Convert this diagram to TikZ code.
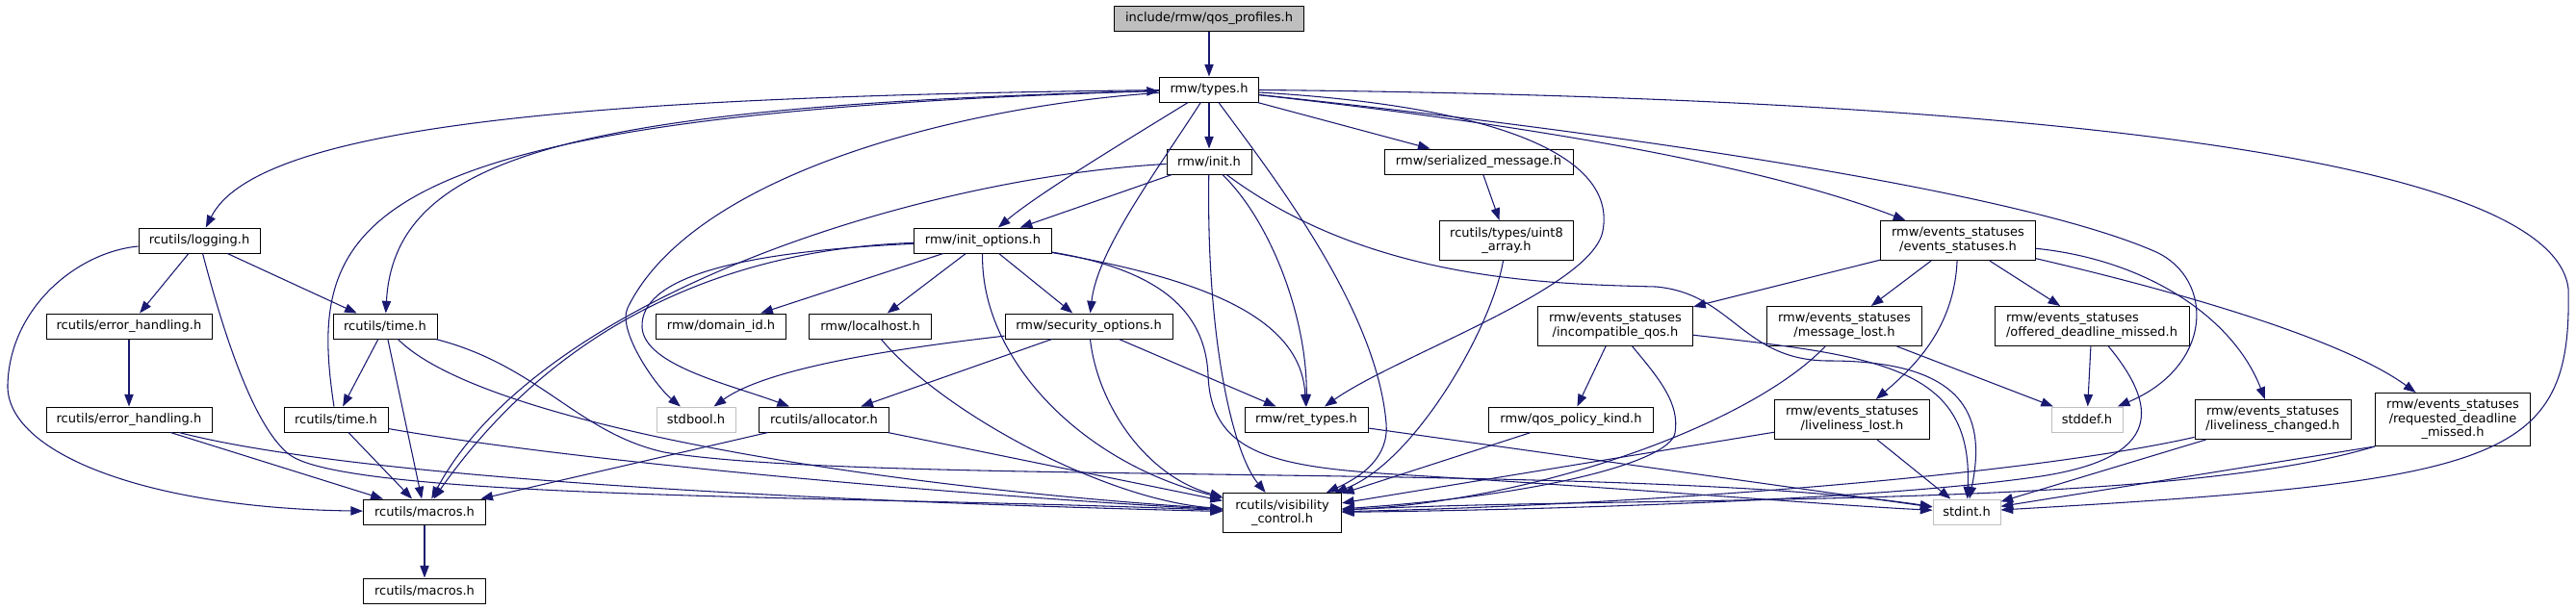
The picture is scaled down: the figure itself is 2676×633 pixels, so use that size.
\documentclass[tikz,border=0pt]{standalone}
\usepackage{fontspec}
\setmainfont{DejaVu Sans}
\usepackage{tikz}
\usetikzlibrary{arrows.meta}
\definecolor{incblue}{RGB}{25,25,112}
\definecolor{sysgray}{RGB}{191,191,191}
\tikzset{
  hdr/.style={draw=black, line width=0.75pt, fill=white, inner sep=0pt,
              minimum height=19.5pt, align=center, font=\fontsize{9.75}{11}\selectfont},
  hdrtwo/.style={hdr, minimum height=30.75pt},
  syshdr/.style={hdr, draw=sysgray},
  roothdr/.style={hdr, fill=sysgray},
  inc/.style={-{Triangle[length=9.5pt, width=7pt]}, incblue, line width=0.8pt},
}

\begin{document}
\begin{tikzpicture}[x=0.75pt, y=-0.75pt]
  \useasboundingbox (0,0) rectangle (2676,633);
  \node[roothdr, minimum width=147.75pt] (qos) at (1256,19) {include/rmw/qos\_profiles.h};
  \node[hdr, minimum width=77.25pt] (types) at (1256,93) {rmw/types.h};
  \node[hdr, minimum width=66pt] (init) at (1256,168) {rmw/init.h};
  \node[hdr, minimum width=147pt] (serial) at (1536,168) {rmw/serialized\_message.h};
  \node[hdr, minimum width=94.5pt] (logging) at (207,250) {rcutils/logging.h};
  \node[hdr, minimum width=107.25pt] (initopt) at (1021,250) {rmw/init\_options.h};
  \node[hdrtwo, minimum width=104.25pt] (uint8) at (1565,250) {rcutils/types/uint8\\\_array.h};
  \node[hdrtwo, minimum width=120.75pt] (events) at (2034,250) {rmw/events\_statuses\\/events\_statuses.h};
  \node[hdr, minimum width=129pt] (err1) at (134,339) {rcutils/error\_handling.h};
  \node[hdr, minimum width=81pt] (time1) at (400,339) {rcutils/time.h};
  \node[hdr, minimum width=101.25pt] (domain) at (749,339) {rmw/domain\_id.h};
  \node[hdr, minimum width=95.25pt] (localhost) at (904,339) {rmw/localhost.h};
  \node[hdr, minimum width=130.5pt] (security) at (1131,339) {rmw/security\_options.h};
  \node[hdrtwo, minimum width=120.75pt] (incompat) at (1678,339) {rmw/events\_statuses\\/incompatible\_qos.h};
  \node[hdrtwo, minimum width=120.75pt] (msglost) at (1916,339) {rmw/events\_statuses\\/message\_lost.h};
  \node[hdrtwo, minimum width=151.5pt, align=left] (offered) at (2173,339) {rmw/events\_statuses\\/offered\_deadline\_missed.h};
  \node[hdr, minimum width=129pt] (err2) at (134,436) {rcutils/error\_handling.h};
  \node[hdr, minimum width=81pt] (time2) at (349,436) {rcutils/time.h};
  \node[syshdr, minimum width=61.5pt] (stdbool) at (723,436) {stdbool.h};
  \node[hdr, minimum width=101.25pt] (alloc) at (856,436) {rcutils/allocator.h};
  \node[hdr, minimum width=96pt] (ret) at (1357,436) {rmw/ret\_types.h};
  \node[hdr, minimum width=128.25pt] (qospk) at (1632,436) {rmw/qos\_policy\_kind.h};
  \node[hdrtwo, minimum width=120.75pt] (livlost) at (1924,436) {rmw/events\_statuses\\/liveliness\_lost.h};
  \node[syshdr, minimum width=55.5pt] (stddef) at (2168,436) {stddef.h};
  \node[hdrtwo, minimum width=121.5pt] (livchg) at (2361,436) {rmw/events\_statuses\\/liveliness\_changed.h};
  \node[hdr, minimum width=120.75pt, minimum height=41.25pt] (requested) at (2548,436) {rmw/events\_statuses\\/requested\_deadline\\\_missed.h};
  \node[hdr, minimum width=95.25pt] (macros1) at (441,532) {rcutils/macros.h};
  \node[hdrtwo, minimum width=92.25pt] (vis) at (1332,533) {rcutils/visibility\\\_control.h};
  \node[syshdr, minimum width=52.5pt] (stdint) at (2043,532) {stdint.h};
  \node[hdr, minimum width=95.25pt] (macros2) at (441,614) {rcutils/macros.h};

  \draw[inc] (qos) -- (types);
  \draw[inc] (types) .. controls (650,100) and (270,125) .. (logging);
  \draw[inc] (types) .. controls (600,110) and (410,160) .. (time1);
  \draw[inc] (types) .. controls (1000,110) and (720,180) .. (652,320) .. controls (641,343) and (680,400) .. (stdbool);
  \draw[inc] (types) .. controls (1180,140) and (1080,200) .. (initopt);
  \draw[inc] (types) .. controls (1200,180) and (1140,260) .. (security);
  \draw[inc] (types) -- (init);
  \draw[inc] (types) .. controls (1320,180) and (1430,320) .. (1440,440) .. controls (1443,475) and (1415,495) .. (vis);
  \draw[inc] (types) -- (serial);
  \draw[inc] (types) .. controls (1500,120) and (1800,160) .. (events);
  \draw[inc] (types) .. controls (1550,110) and (1680,160) .. (1665,240) .. controls (1654,300) and (1450,370) .. (ret);
  \draw[inc] (types) .. controls (1700,140) and (2100,200) .. (2240,262) .. controls (2300,290) and (2300,380) .. (stddef);
  \draw[inc] (types) .. controls (2000,100) and (2650,150) .. (2668,300) .. controls (2672,480) and (2600,500) .. (stdint);
  \draw[inc] (time2) .. controls (318,230) and (360,120) .. (types);

  \draw[inc] (init) -- (initopt);
  \draw[inc] (init) .. controls (950,185) and (560,310) .. (macros1);
  \draw[inc] (init) .. controls (1253,350) and (1280,470) .. (vis);
  \draw[inc] (init) .. controls (1320,230) and (1358,330) .. (ret);
  \draw[inc] (init) .. controls (1420,290) and (1600,295) .. (1720,298) .. controls (1800,305) and (1810,375) .. (1900,375) .. controls (2050,375) and (2062,440) .. (stdint);

  \draw[inc] (initopt) -- (domain);
  \draw[inc] (initopt) -- (localhost);
  \draw[inc] (initopt) -- (security);
  \draw[inc] (initopt) .. controls (780,258) and (590,320) .. (macros1);
  \draw[inc] (initopt) .. controls (760,262) and (665,290) .. (667,340) .. controls (669,380) and (760,400) .. (alloc);
  \draw[inc] (initopt) .. controls (1018,370) and (1120,480) .. (vis);
  \draw[inc] (initopt) .. controls (1250,290) and (1352,330) .. (ret);
  \draw[inc] (initopt) .. controls (1200,280) and (1252,320) .. (1255,390) .. controls (1258,470) and (1320,485) .. (1450,493) .. controls (1700,508) and (1900,525) .. (stdint);

  \draw[inc] (security) .. controls (950,360) and (800,380) .. (stdbool);
  \draw[inc] (security) -- (alloc);
  \draw[inc] (security) -- (ret);
  \draw[inc] (security) .. controls (1140,420) and (1190,495) .. (vis);
  \draw[inc] (localhost) .. controls (980,430) and (1150,520) .. (vis);
  \draw[inc] (alloc) -- (macros1);
  \draw[inc] (alloc) -- (vis);
  \draw[inc] (ret) -- (stdint);
  \draw[inc] (serial) -- (uint8);
  \draw[inc] (uint8) .. controls (1550,340) and (1470,480) .. (vis);

  \draw[inc] (events) -- (incompat);
  \draw[inc] (events) -- (msglost);
  \draw[inc] (events) .. controls (2030,340) and (1990,380) .. (livlost);
  \draw[inc] (events) -- (offered);
  \draw[inc] (events) .. controls (2230,270) and (2320,330) .. (livchg);
  \draw[inc] (events) .. controls (2250,300) and (2430,350) .. (requested);

  \draw[inc] (incompat) -- (qospk);
  \draw[inc] (incompat) .. controls (1725,395) and (1745,420) .. (1740,450) .. controls (1735,480) and (1600,515) .. (vis);
  \draw[inc] (incompat) .. controls (1950,370) and (2050,380) .. (stdint);
  \draw[inc] (qospk) -- (vis);
  \draw[inc] (msglost) .. controls (1820,440) and (1600,520) .. (vis);
  \draw[inc] (msglost) -- (stddef);
  \draw[inc] (offered) -- (stddef);
  \draw[inc] (offered) .. controls (2240,420) and (2250,475) .. (2120,495) .. controls (1950,520) and (1600,530) .. (vis);
  \draw[inc] (livlost) -- (vis);
  \draw[inc] (livlost) -- (stdint);
  \draw[inc] (livchg) .. controls (2100,495) and (1700,525) .. (vis);
  \draw[inc] (livchg) -- (stdint);
  \draw[inc] (requested.south west) .. controls (2250,530) and (1700,515) .. (vis);
  \draw[inc] (requested.south west) -- (stdint);

  \draw[inc] (logging) -- (err1);
  \draw[inc] (logging) -- (time1);
  \draw[inc] (logging) .. controls (80,262) and (10,320) .. (8,400) .. controls (6,470) and (150,528) .. (macros1);
  \draw[inc] (logging) .. controls (228,330) and (260,440) .. (300,472) .. controls (360,520) and (900,515) .. (vis);
  \draw[inc] (err1) -- (err2);
  \draw[inc] (err2) -- (macros1);
  \draw[inc] (err2) .. controls (400,505) and (1000,525) .. (vis);
  \draw[inc] (time1) -- (time2);
  \draw[inc] (time1) -- (macros1);
  \draw[inc] (time1) .. controls (500,440) and (900,505) .. (vis);
  \draw[inc] (time1) .. controls (560,380) and (600,450) .. (690,470) .. controls (900,505) and (1700,480) .. (stdint);
  \draw[inc] (time2) -- (macros1);
  \draw[inc] (time2) .. controls (600,480) and (1000,515) .. (vis);
  \draw[inc] (macros1) -- (macros2);
\end{tikzpicture}
\end{document}
